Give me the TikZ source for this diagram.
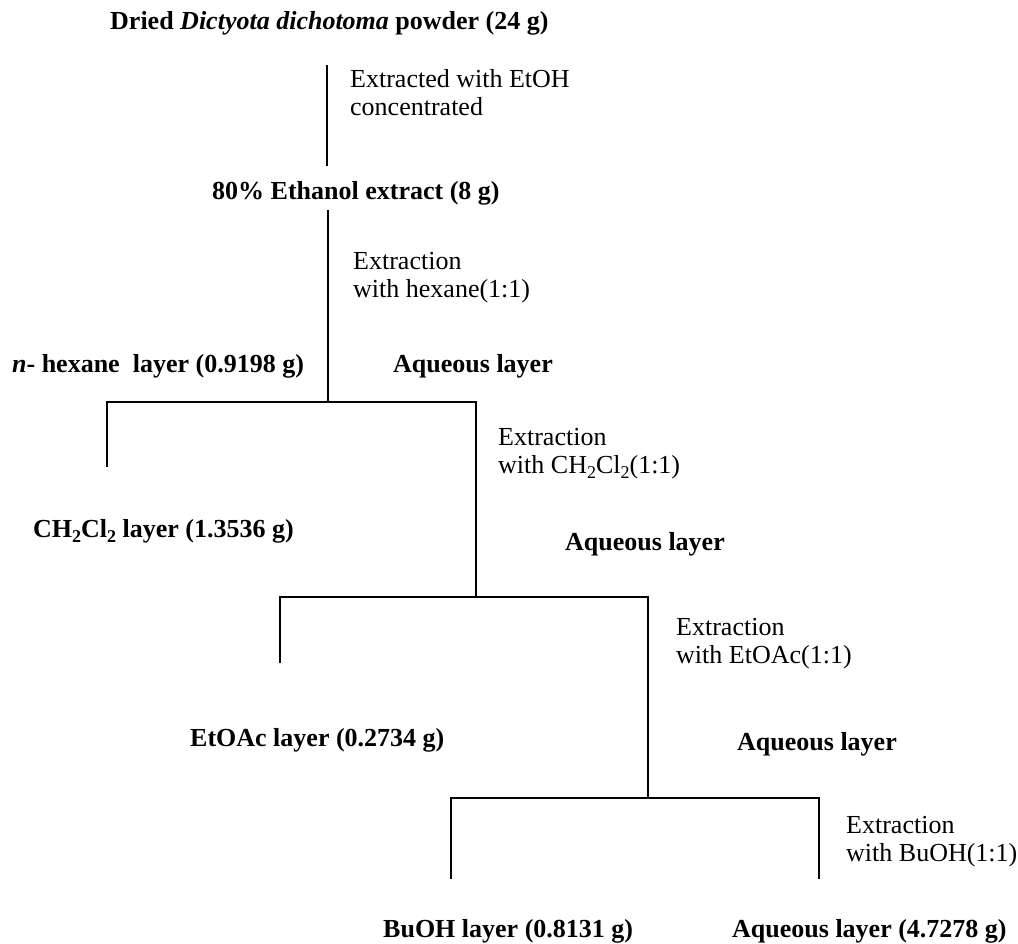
\documentclass[tikz,border=0pt]{standalone}
\usepackage{fontspec}
\setmainfont{Liberation Serif}
\newcommand{\lowtwo}{\raisebox{-0.22em}{\fontsize{18}{18}\selectfont 2}}
\begin{document}
\begin{tikzpicture}[x=1pt,y=-1pt,
  lbl/.style={anchor=base west,inner sep=0pt,font=\fontsize{26}{28}\selectfont},
  blbl/.style={lbl,font=\fontsize{26}{28}\selectfont\bfseries},
  conn/.style={draw=black,line width=1.7pt}]
\useasboundingbox (0,0) rectangle (1018,944);
% texts
\node[blbl] (dried) at (110,30) {Dried \textit{Dictyota dichotoma} powder (24 g)};
\node[lbl] (exA1) at (350,88) {Extracted with EtOH};
\node[lbl] (exA2) at (350,116) {concentrated};
\node[blbl] (etoh) at (212,200) {80\% Ethanol extract (8 g)};
\node[lbl] (exB1) at (353,270) {Extraction};
\node[lbl] (exB2) at (353,298) {with hexane(1:1)};
\node[blbl] (hex) at (12,372) {\textit{n}- hexane\ \ layer (0.9198 g)};
\node[blbl] (aq1) at (393,372) {Aqueous layer};
\node[lbl] (exC1) at (498,445) {Extraction};
\node[lbl] (exC2) at (498,473) {with CH\lowtwo Cl\lowtwo(1:1)};
\node[blbl] (dcm) at (33,537) {CH\lowtwo Cl\lowtwo\ layer (1.3536 g)};
\node[blbl] (aq2) at (565,550) {Aqueous layer};
\node[lbl] (exD1) at (676,635) {Extraction};
\node[lbl] (exD2) at (676,663) {with EtOAc(1:1)};
\node[blbl] (etoac) at (190,746) {EtOAc layer (0.2734 g)};
\node[blbl] (aq3) at (737,750) {Aqueous layer};
\node[lbl] (exE1) at (846,833) {Extraction};
\node[lbl] (exE2) at (846,861) {with BuOH(1:1)};
\node[blbl] (buoh) at (383,937) {BuOH layer (0.8131 g)};
\node[blbl] (aq4) at (732,937) {Aqueous layer (4.7278 g)};
% junction coordinates
\coordinate (a0) at (327,65);
\coordinate (a1) at (327,166);
\coordinate (b0) at (328,210);
\coordinate (b1) at (328,402);
\coordinate (bl) at (107,402);
\coordinate (blb) at (107,467);
\coordinate (br) at (476,402);
\coordinate (c1) at (476,597);
\coordinate (cl) at (280,597);
\coordinate (clb) at (280,663);
\coordinate (cr) at (648,597);
\coordinate (d1) at (648,798);
\coordinate (dl) at (451,798);
\coordinate (dlb) at (451,879);
\coordinate (dr) at (819,798);
\coordinate (drb) at (819,879);
% connectors
\draw[conn] (a0) -- (a1);
\draw[conn] (b0) -- (b1);
\draw[conn] (blb) -- (bl) -- (br) -- (c1);
\draw[conn] (clb) -- (cl) -- (cr) -- (d1);
\draw[conn] (dlb) -- (dl) -- (dr) -- (drb);
\end{tikzpicture}
\end{document}
